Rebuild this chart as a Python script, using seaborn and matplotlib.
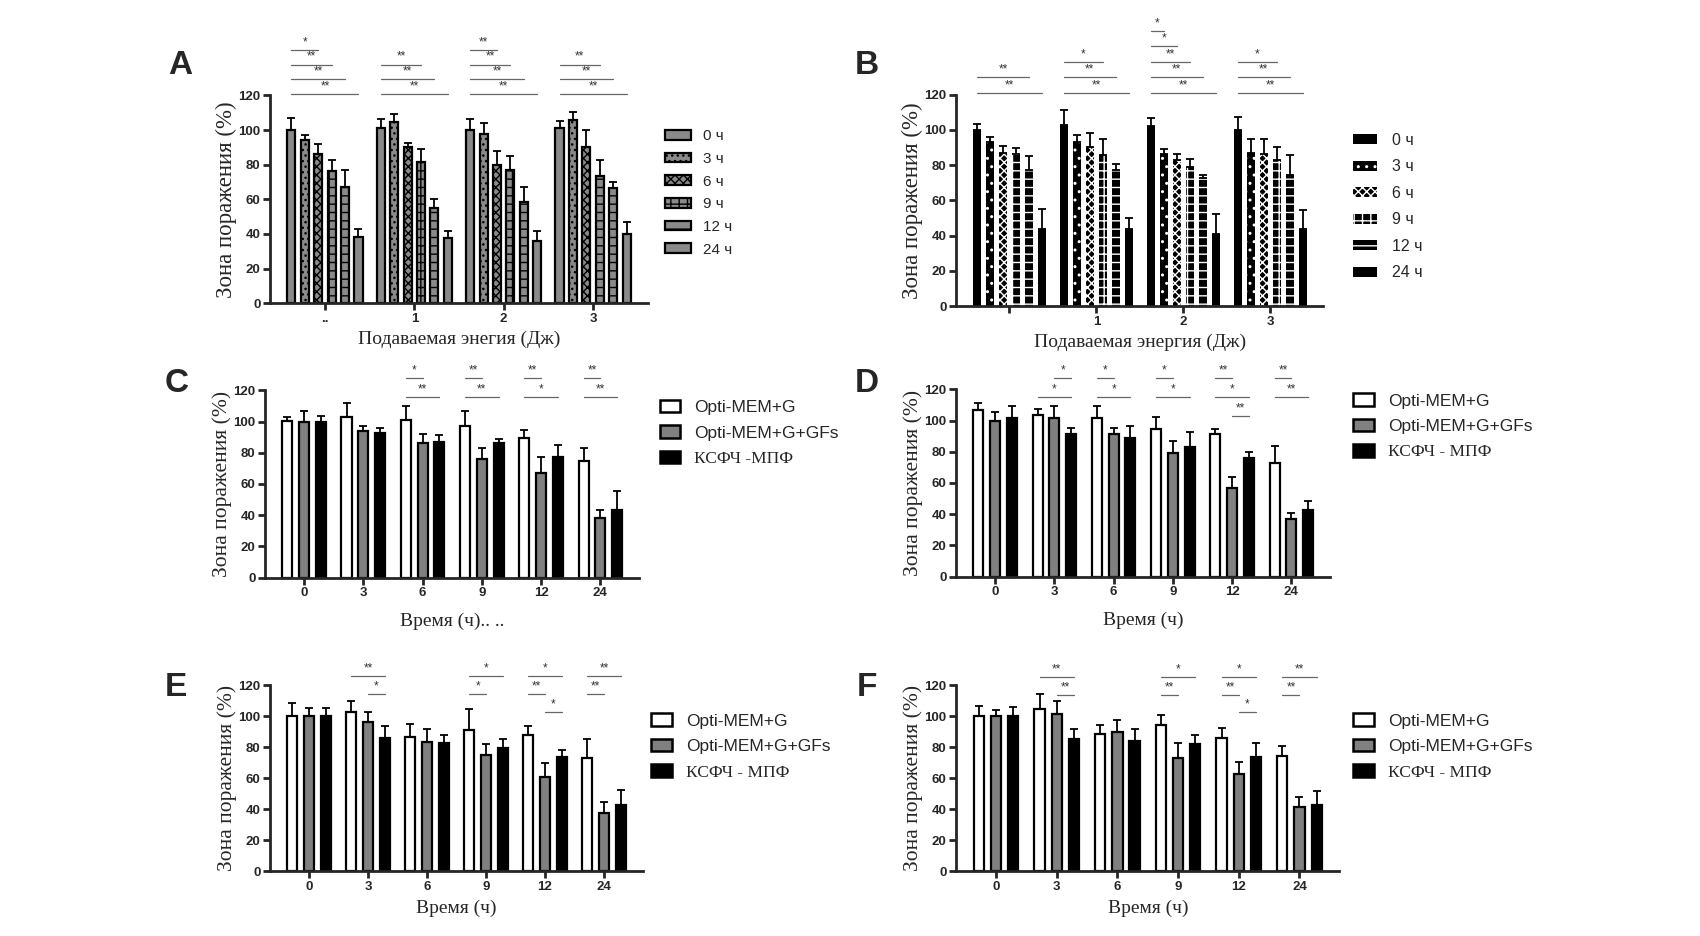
import numpy as np
import pandas as pd
import matplotlib
matplotlib.use('Agg')
import matplotlib.pyplot as plt
import seaborn as sns
from matplotlib.patches import Patch

# ---- panels A and B: energy (J) groups, bars = time after exposure ----
energy = ['0', '1', '2', '3']
energy_ticks_a = ['..', '1', '2', '3']
energy_ticks_b = ['', '1', '2', '3']
hours_a = ['0 ч', '3 ч', '6 ч', '9 ч', '12 ч', '24 ч']

# rows = energy group, columns = time point
area_a = [[100, 94, 86, 76.5, 67, 38],
          [101.5, 104.5, 90.5, 81.5, 55, 37.5],
          [100, 98, 80, 77, 58.5, 36],
          [101, 106, 90, 73.5, 66.5, 40]]
err_a = [[7, 3, 6, 6.5, 10, 5],
         [5, 5, 2, 7.5, 5.5, 4.5],
         [6.5, 6, 8, 8, 8.5, 6],
         [4, 4.5, 10, 9, 3.5, 7]]

area_b = [[100, 93, 87, 86, 77, 43.5],
          [102.5, 93, 90, 85.5, 77, 43.5],
          [102, 86, 83, 79, 72.5, 41],
          [100, 87, 86, 83, 74.5, 43.5]]
err_b = [[3.5, 3, 4, 3.5, 8, 11.5],
         [9, 4, 8, 9, 3.5, 6.5],
         [4.5, 3, 3, 4.5, 2, 11],
         [7.5, 7.5, 9, 7, 11, 11]]

# ---- panels C-F: time (h) groups, bars = medium ----
hours = ['0', '3', '6', '9', '12', '24']
media_c = ['Opti-MEM+G', 'Opti-MEM+G+GFs', 'КСФЧ -МПФ']
media = ['Opti-MEM+G', 'Opti-MEM+G+GFs', 'КСФЧ - МПФ']

# rows = medium, columns = time point
area_c = [[100.5, 103, 101, 97, 89.5, 75],
          [100, 94, 86, 76, 67, 38],
          [100, 92.5, 87, 86, 77, 43.5]]
err_c = [[2.5, 9, 9, 10, 5, 8],
         [7, 3, 6, 7, 10, 5],
         [3.5, 3.5, 4.5, 3, 8, 12]]

area_d = [[107, 103.5, 101.5, 94.5, 91.5, 72.5],
          [100, 101.5, 91.5, 79, 57, 37],
          [101.5, 91.5, 89, 83, 76, 42.5]]
err_d = [[4.5, 4, 8, 7.5, 3, 11.5],
         [5.5, 8, 4, 8, 7, 4],
         [8, 4, 7.5, 9.5, 4, 6]]

area_e = [[100, 102.5, 86.5, 91, 88, 73],
          [100, 96.5, 83.5, 75, 61, 37.5],
          [100, 86, 83, 79.5, 73.5, 42.5]]
err_e = [[8.5, 7, 8.5, 13.5, 6, 12],
         [5, 6, 8, 7, 9, 7.5],
         [5.5, 7.5, 5, 5.5, 5, 10]]

area_f = [[100, 104.5, 88.5, 94.5, 86, 74.5],
          [100, 101.5, 90, 73, 62.5, 41.5],
          [100, 85.5, 84, 82, 74, 43]]
err_f = [[6.5, 9.5, 6, 6, 6.5, 6],
         [4, 8.5, 7.5, 10, 8, 6.5],
         [6, 6.5, 8, 6, 9, 8.5]]

# significance: (group, bar_i, bar_j, stack level, label)
sig_a = [(0, 0, 5, 0, '**'), (0, 0, 4, 1, '**'), (0, 0, 3, 2, '**'), (0, 0, 2, 3, '*'),
         (1, 0, 5, 0, '**'), (1, 0, 4, 1, '**'), (1, 0, 3, 2, '**'),
         (2, 0, 5, 0, '**'), (2, 0, 4, 1, '**'), (2, 0, 3, 2, '**'), (2, 0, 2, 3, '**'),
         (3, 0, 5, 0, '**'), (3, 0, 4, 1, '**'), (3, 0, 3, 2, '**')]
sig_b = [(0, 0, 5, 0, '**'), (0, 0, 4, 1, '**'),
         (1, 0, 5, 0, '**'), (1, 0, 4, 1, '**'), (1, 0, 3, 2, '*'),
         (2, 0, 5, 0, '**'), (2, 0, 4, 1, '**'), (2, 0, 3, 2, '**'), (2, 0, 2, 3, '*'), (2, 0, 1, 4, '*'),
         (3, 0, 5, 0, '**'), (3, 0, 4, 1, '**'), (3, 0, 3, 2, '*')]
sig_c = [(2, 0, 2, 0, '**'), (2, 0, 1, 1, '*'),
         (3, 0, 2, 0, '**'), (3, 0, 1, 1, '**'),
         (4, 0, 2, 0, '*'), (4, 0, 1, 1, '**'),
         (5, 0, 2, 0, '**'), (5, 0, 1, 1, '**')]
sig_d = [(1, 0, 2, 1, '*'), (1, 1, 2, 2, '*'),
         (2, 0, 2, 1, '*'), (2, 0, 1, 2, '*'),
         (3, 0, 2, 1, '*'), (3, 0, 1, 2, '*'),
         (4, 1, 2, 0, '**'), (4, 0, 2, 1, '*'), (4, 0, 1, 2, '**'),
         (5, 0, 2, 1, '**'), (5, 0, 1, 2, '**')]
sig_e = [(1, 1, 2, 1, '*'), (1, 0, 2, 2, '**'),
         (3, 0, 1, 1, '*'), (3, 0, 2, 2, '*'),
         (4, 1, 2, 0, '*'), (4, 0, 1, 1, '**'), (4, 0, 2, 2, '*'),
         (5, 0, 1, 1, '**'), (5, 0, 2, 2, '**')]
sig_f = [(1, 1, 2, 1, '**'), (1, 0, 2, 2, '**'),
         (3, 0, 1, 1, '**'), (3, 0, 2, 2, '*'),
         (4, 1, 2, 0, '*'), (4, 0, 1, 1, '**'), (4, 0, 2, 2, '*'),
         (5, 0, 1, 1, '**'), (5, 0, 2, 2, '**')]

sns.set_style('ticks')
plt.rcParams['font.family'] = ['Liberation Sans', 'DejaVu Sans']
plt.rcParams['hatch.linewidth'] = 1.0
SERIF = ['Liberation Serif', 'DejaVu Serif']

GRAY = '#8a8a8a'
hatch_a = [None, '...', 'xxxx', '++', '--', None]
hatch_b = [None, '..', 'xxxx', '++', '--', None]
medium_colors = ['white', '#808080', 'black']


def bar_panel(ax, groups, series, values, errors, colors, hatches, width, gap,
              edge='black', hatch_edge=None):
    vals = np.asarray(values, dtype=float)
    errs = np.asarray(errors, dtype=float)
    df = pd.DataFrame([(g, s, vals[i, j]) for i, s in enumerate(series)
                       for j, g in enumerate(groups)], columns=['grp', 'ser', 'val'])
    sns.barplot(data=df, x='grp', y='val', hue='ser', order=groups, hue_order=series,
                palette=dict(zip(series, colors)), width=width, gap=gap, errorbar=None,
                edgecolor=edge, linewidth=1.6, legend=False, ax=ax)
    centers = {}
    for i, cont in enumerate(list(ax.containers)):
        for bar in cont:
            xc = bar.get_x() + bar.get_width() / 2
            j = int(round(xc))
            centers[(i, j)] = xc
            if hatches[i]:
                bar.set_hatch(hatches[i])
            if hatch_edge is not None:
                bar.set_edgecolor(hatch_edge)
                bar.set_linewidth(0)
            ax.errorbar(xc, vals[i, j], yerr=[[0], [errs[i, j]]], fmt='none',
                        ecolor='black', elinewidth=1.3, capsize=3, capthick=1.3, zorder=1)
    return centers


def add_sig(ax, centers, sig, base, step):
    for g, i, j, lvl, lab in sig:
        x0, x1 = centers[(i, g)], centers[(j, g)]
        y = base + lvl * step
        ax.plot([x0, x1], [y, y], color='#666666', lw=0.9, clip_on=False)
        ax.text((x0 + x1) / 2, y + 1.0, lab, ha='center', va='bottom', fontsize=8.5,
                color='#333333', clip_on=False)


def style_axes(ax, ticklabels, xlabel, xpad, ysize):
    ax.set_ylim(0, 120)
    ax.set_yticks(range(0, 121, 20))
    ax.set_xticks(range(len(ticklabels)))
    ax.set_xticklabels(ticklabels)
    sns.despine(ax=ax)
    for s in ('left', 'bottom'):
        ax.spines[s].set_linewidth(2)
    ax.tick_params(width=2, length=5, labelsize=9.5, pad=2)
    for t in ax.get_xticklabels() + ax.get_yticklabels():
        t.set_fontweight('bold')
    ax.set_ylabel('Зона поражения (%)', family=SERIF, fontsize=ysize, labelpad=1)
    ax.set_xlabel(xlabel, family=SERIF, fontsize=14, labelpad=xpad)


def media_legend(fig, labels, anchor):
    handles = [Patch(facecolor=c, edgecolor='black', linewidth=1.8) for c in medium_colors]
    leg = fig.legend(handles, labels, loc='upper left', bbox_to_anchor=anchor, frameon=False,
                     fontsize=12.5, handlelength=1.2, handleheight=0.75, handletextpad=0.8,
                     labelspacing=0.58, borderpad=0, borderaxespad=0)
    leg.get_texts()[2].set_fontfamily(SERIF)
    return leg


fig = plt.figure(figsize=(17, 9.36), dpi=100)

# A
ax = fig.add_axes([0.159, 0.676, 0.222, 0.222])
cen = bar_panel(ax, energy, hours_a, np.array(area_a).T, np.array(err_a).T,
                [GRAY] * 6, hatch_a, width=0.9, gap=0.4)
style_axes(ax, energy_ticks_a, 'Подаваемая энегия (Дж)', 4, 16.5)
add_sig(ax, cen, sig_a, 121, 8.4)
handles = [Patch(facecolor=GRAY, edgecolor='black', hatch=h, linewidth=1.6) for h in hatch_a]
fig.legend(handles, hours_a, loc='upper left', bbox_to_anchor=(0.391, 0.862), frameon=False,
           fontsize=11, handlelength=1.7, handleheight=0.6, handletextpad=0.8,
           labelspacing=0.57, borderpad=0, borderaxespad=0)

# B
ax = fig.add_axes([0.5625, 0.673, 0.216, 0.226])
cen = bar_panel(ax, energy, hours_a, np.array(area_b).T, np.array(err_b).T,
                ['black'] * 6, hatch_b, width=0.9, gap=0.4, hatch_edge='white')
style_axes(ax, energy_ticks_b, 'Подаваемая энергия (Дж)', 4, 16.5)
add_sig(ax, cen, sig_b, 121, 8.8)
handles = [Patch(facecolor='black', edgecolor='white', hatch=h, linewidth=0) for h in hatch_b]
fig.legend(handles, hours_a, loc='upper left', bbox_to_anchor=(0.796, 0.858), frameon=False,
           fontsize=11.5, handlelength=1.5, handleheight=0.6, handletextpad=0.9,
           labelspacing=0.72, borderpad=0, borderaxespad=0)

# C - F
panels = [([0.156, 0.383, 0.220, 0.200], area_c, err_c, sig_c, (116, 12), media_c,
           'Время (ч).. ..', 10, (0.388, 0.573)),
          ([0.5625, 0.384, 0.220, 0.200], area_d, err_d, sig_d, (103, 12), media,
           'Время (ч)', 10, (0.796, 0.580)),
          ([0.159, 0.069, 0.219, 0.199], area_e, err_e, sig_e, (103, 11.5), media,
           'Время (ч)', 5, (0.383, 0.238)),
          ([0.5625, 0.069, 0.2253, 0.199], area_f, err_f, sig_f, (102.5, 11.3), media,
           'Время (ч)', 5, (0.796, 0.238))]
for rect, vals, errs, sig, (base, step), labels, xl, xpad, anchor in panels:
    ax = fig.add_axes(rect)
    cen = bar_panel(ax, hours, labels, vals, errs, medium_colors, [None] * 3,
                    width=0.85, gap=0.4)
    style_axes(ax, hours, xl, xpad, 15.5)
    add_sig(ax, cen, sig, base, step)
    media_legend(fig, labels, anchor)

for letter, x, y in [('A', 168, 66), ('B', 855, 66), ('C', 165, 384),
                     ('D', 855, 384), ('E', 165, 688), ('F', 857, 688)]:
    fig.text(x / 1700, 1 - y / 936, letter, fontsize=24, fontweight='bold',
             ha='left', va='center')

fig.savefig('out.png', dpi=100)
